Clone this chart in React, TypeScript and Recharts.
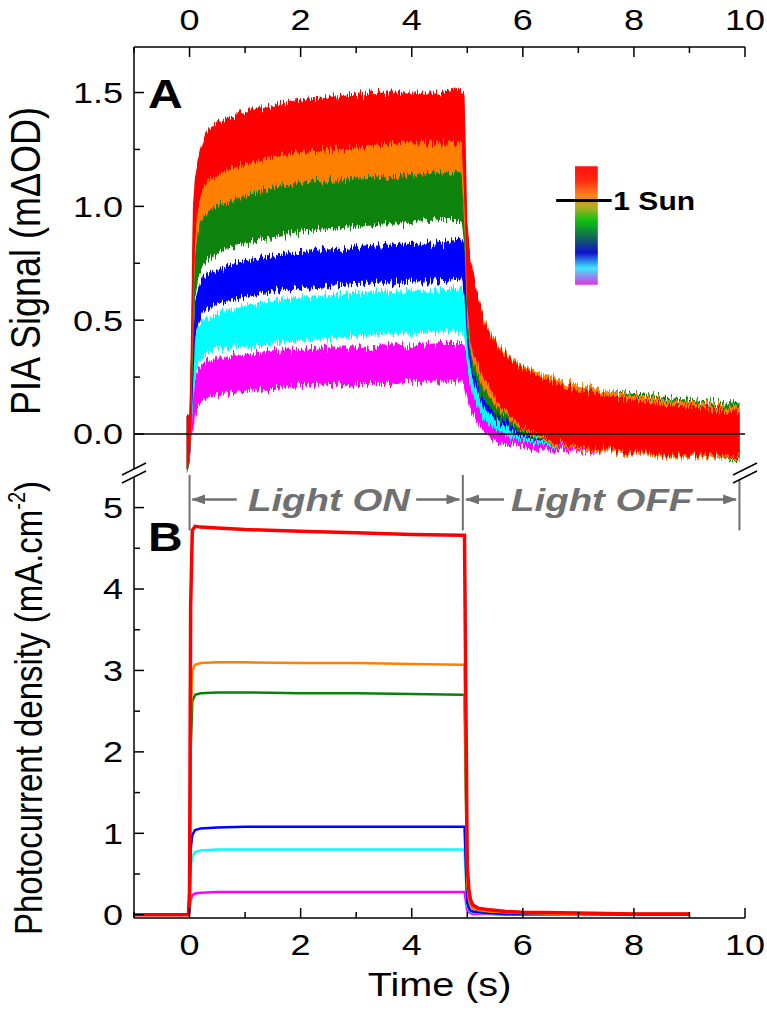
import React from "react";
import {
  ComposedChart,
  Area,
  Line,
  XAxis,
  YAxis,
  ReferenceLine,
  ReferenceArea,
  ReferenceDot,
} from "recharts";

// ---------- Panel A: PIA signal (mΔOD), low/high edge of each noisy band ----------
const piaTime = [
  -0.05, 0.0, 0.03, 0.06, 0.1, 0.15, 0.2, 0.3, 0.5, 0.8, 1.2, 1.6, 2.0, 2.5, 3.0, 3.5, 4.0, 4.5, 4.9,
  4.95, 5.0, 5.05, 5.1, 5.2, 5.3, 5.45, 5.6, 5.8, 6.0, 6.5, 7.0, 7.5, 8.0, 8.5, 9.0, 9.5, 9.9,
];
const redHi = [
  0.08, 0.1, 0.5, 1.0, 1.12, 1.2, 1.26, 1.33, 1.37, 1.4, 1.43, 1.45, 1.47, 1.48, 1.49, 1.5, 1.5, 1.5, 1.52,
  1.5, 0.95, 0.8, 0.72, 0.6, 0.5, 0.42, 0.37, 0.32, 0.29, 0.23, 0.19, 0.17, 0.15, 0.13, 0.12, 0.11, 0.1,
];
const redLo = [
  -0.15, -0.12, 0.05, 0.5, 0.85, 0.98, 1.05, 1.1, 1.14, 1.17, 1.2, 1.22, 1.24, 1.25, 1.26, 1.27, 1.28, 1.28, 1.28,
  1.0, 0.55, 0.42, 0.36, 0.3, 0.25, 0.18, 0.12, 0.07, 0.03, -0.03, -0.06, -0.07, -0.08, -0.09, -0.09, -0.1, -0.1,
];
const orangeHi = [
  0.08, 0.1, 0.4, 0.9, 1.0, 1.08, 1.12, 1.18, 1.22, 1.25, 1.28, 1.3, 1.31, 1.32, 1.33, 1.34, 1.34, 1.35, 1.35,
  1.3, 0.9, 0.78, 0.7, 0.6, 0.51, 0.43, 0.38, 0.33, 0.3, 0.25, 0.21, 0.19, 0.17, 0.15, 0.14, 0.13, 0.12,
];
const orangeLo = [
  -0.15, -0.12, 0.05, 0.45, 0.78, 0.88, 0.93, 0.97, 1.0, 1.03, 1.06, 1.09, 1.1, 1.11, 1.12, 1.13, 1.14, 1.15, 1.15,
  0.9, 0.5, 0.38, 0.32, 0.26, 0.2, 0.14, 0.1, 0.05, 0.02, -0.04, -0.07, -0.08, -0.09, -0.1, -0.1, -0.11, -0.11,
];
const greenHi = [
  0.08, 0.1, 0.35, 0.85, 0.95, 1.0, 1.03, 1.06, 1.08, 1.1, 1.12, 1.14, 1.15, 1.16, 1.17, 1.18, 1.19, 1.2, 1.2,
  1.15, 0.88, 0.72, 0.65, 0.52, 0.45, 0.38, 0.34, 0.3, 0.28, 0.24, 0.21, 0.19, 0.18, 0.16, 0.15, 0.14, 0.14,
];
const greenLo = [
  -0.17, -0.13, 0.05, 0.3, 0.6, 0.68, 0.72, 0.76, 0.79, 0.82, 0.85, 0.87, 0.89, 0.9, 0.91, 0.92, 0.93, 0.94, 0.94,
  0.8, 0.45, 0.34, 0.28, 0.2, 0.15, 0.1, 0.06, 0.03, 0.0, -0.04, -0.06, -0.07, -0.08, -0.09, -0.1, -0.11, -0.12,
];
const blueHi = [
  0.08, 0.1, 0.25, 0.4, 0.58, 0.64, 0.67, 0.7, 0.72, 0.75, 0.77, 0.79, 0.8, 0.81, 0.82, 0.83, 0.84, 0.84, 0.85,
  0.82, 0.68, 0.55, 0.48, 0.39, 0.33, 0.27, 0.23, 0.2, 0.18, 0.15, 0.13, 0.12, 0.11, 0.1, 0.1, 0.09, 0.09,
];
const blueLo = [
  -0.15, -0.12, 0.02, 0.2, 0.42, 0.47, 0.51, 0.55, 0.57, 0.59, 0.61, 0.63, 0.64, 0.65, 0.66, 0.66, 0.67, 0.67, 0.68,
  0.6, 0.4, 0.3, 0.24, 0.17, 0.12, 0.07, 0.04, 0.01, -0.01, -0.04, -0.06, -0.07, -0.08, -0.08, -0.09, -0.09, -0.1,
];
const cyanHi = [
  0.08, 0.1, 0.2, 0.3, 0.42, 0.46, 0.49, 0.51, 0.53, 0.55, 0.57, 0.59, 0.6, 0.61, 0.62, 0.62, 0.63, 0.63, 0.64,
  0.6, 0.5, 0.42, 0.36, 0.29, 0.24, 0.19, 0.16, 0.13, 0.12, 0.1, 0.09, 0.08, 0.08, 0.07, 0.07, 0.07, 0.07,
];
const cyanLo = [
  -0.15, -0.12, 0.0, 0.12, 0.25, 0.3, 0.33, 0.35, 0.37, 0.38, 0.39, 0.4, 0.41, 0.42, 0.43, 0.44, 0.44, 0.45, 0.45,
  0.42, 0.3, 0.22, 0.17, 0.11, 0.07, 0.03, 0.01, -0.02, -0.03, -0.05, -0.06, -0.07, -0.08, -0.08, -0.09, -0.09, -0.1,
];
const magentaHi = [
  0.08, 0.1, 0.12, 0.15, 0.25, 0.28, 0.3, 0.32, 0.33, 0.34, 0.36, 0.37, 0.37, 0.38, 0.38, 0.39, 0.39, 0.4, 0.4,
  0.38, 0.34, 0.3, 0.27, 0.21, 0.17, 0.12, 0.09, 0.07, 0.06, 0.05, 0.05, 0.05, 0.05, 0.05, 0.05, 0.05, 0.05,
];
const magentaLo = [
  -0.15, -0.12, -0.02, 0.0, 0.08, 0.12, 0.14, 0.16, 0.17, 0.18, 0.19, 0.2, 0.21, 0.22, 0.22, 0.22, 0.23, 0.23, 0.23,
  0.2, 0.15, 0.11, 0.08, 0.04, 0.01, -0.02, -0.04, -0.05, -0.06, -0.07, -0.08, -0.08, -0.09, -0.09, -0.1, -0.1, -0.1,
];

// ---------- Panel B: photocurrent density (mA.cm-2) ----------
const pcTime = [
  -1, -0.02, 0.0, 0.02, 0.05, 0.1, 0.2, 0.5, 1, 2, 3, 4, 4.9, 4.95, 4.98, 5.0, 5.03, 5.06, 5.1, 5.2, 5.4, 5.7, 6, 7, 8, 9,
];
const pcRed = [
  0, 0, 0.3, 3.8, 4.72, 4.77, 4.76, 4.75, 4.73, 4.71, 4.69, 4.67, 4.66, 4.66, 2.2, 0.6, 0.3, 0.18, 0.12, 0.08, 0.06, 0.04, 0.03, 0.02, 0.01, 0.01,
];
const pcOrange = [
  0, 0, 0.2, 2.4, 3.0, 3.07, 3.09, 3.1, 3.1, 3.09, 3.09, 3.08, 3.07, 3.07, 1.4, 0.4, 0.2, 0.12, 0.08, 0.06, 0.04, 0.03, 0.02, 0.01, 0.01, 0.01,
];
const pcGreen = [
  0, 0, 0.2, 2.0, 2.62, 2.7, 2.72, 2.73, 2.73, 2.72, 2.72, 2.71, 2.7, 2.7, 1.2, 0.35, 0.18, 0.11, 0.08, 0.05, 0.04, 0.03, 0.02, 0.01, 0.01, 0.01,
];
const pcBlue = [
  0, 0, 0.1, 0.8, 0.98, 1.04, 1.06, 1.07, 1.08, 1.08, 1.08, 1.08, 1.08, 1.08, 0.5, 0.15, 0.08, 0.05, 0.04, 0.03, 0.02, 0.01, 0.01, 0.01, 0, 0,
];
const pcCyan = [
  0, 0, 0.08, 0.58, 0.72, 0.77, 0.79, 0.8, 0.8, 0.8, 0.8, 0.8, 0.8, 0.8, 0.38, 0.12, 0.06, 0.04, 0.03, 0.02, 0.02, 0.01, 0.01, 0, 0, 0,
];
const pcMagenta = [
  0, 0, 0.03, 0.18, 0.24, 0.26, 0.27, 0.28, 0.28, 0.28, 0.28, 0.28, 0.28, 0.28, 0.14, 0.05, 0.03, 0.02, 0.01, 0.01, 0.01, 0, 0, 0, 0, 0,
];

// ---------- ticks ----------
const timeTicks = [-1, 0, 1, 2, 3, 4, 5, 6, 7, 8, 9, 10];
const piaTicks = [0, 0.25, 0.5, 0.75, 1.0, 1.25, 1.5];
const pcTicks = [0, 0.5, 1, 1.5, 2, 2.5, 3, 3.5, 4, 4.5, 5];

// draw order: weakest light first, 1 sun (red) last on top
const SERIES = [
  { key: "magenta", color: "#ff00ff" },
  { key: "cyan", color: "#00ffff" },
  { key: "blue", color: "#0000ff" },
  { key: "green", color: "#078307" },
  { key: "orange", color: "#ff8000" },
  { key: "red", color: "#ff0000" },
];

const piaRows = piaTime.map((t, i) => ({
  t,
  red: [redLo[i], redHi[i]],
  orange: [orangeLo[i], orangeHi[i]],
  green: [greenLo[i], greenHi[i]],
  blue: [blueLo[i], blueHi[i]],
  cyan: [cyanLo[i], cyanHi[i]],
  magenta: [magentaLo[i], magentaHi[i]],
}));

const pcRows = pcTime.map((t, i) => ({
  t,
  red: pcRed[i],
  orange: pcOrange[i],
  green: pcGreen[i],
  blue: pcBlue[i],
  cyan: pcCyan[i],
  magenta: pcMagenta[i],
}));

// layout (page pixels)
const W = 767;
const H = 1027;
const PLOT_L = 134;
const PLOT_R = 745;
const TOP_A = 47;
const SPLIT = 475;
const BOT_B = 918;
const B_OFFSET = SPLIT - 5;

const SX = 1.2; // the figure's lettering is a bit wide
const FONT = "Arial, 'Liberation Sans', Helvetica, sans-serif";
const GREY = "#707070";

function Txt({ x, y, size, anchor = "middle", weight = 400, italic = false, fill = "#000", rotate = 0, children }: any) {
  const tf = `translate(${x},${y}) scale(${SX},1)` + (rotate ? ` rotate(${rotate})` : "");
  return (
    <text
      transform={tf}
      textAnchor={anchor}
      dominantBaseline="central"
      fontFamily={FONT}
      fontSize={size}
      fontWeight={weight}
      fontStyle={italic ? "italic" : "normal"}
      fill={fill}
    >
      {children}
    </text>
  );
}

const isMult = (v: number, step: number) => Math.abs(v / step - Math.round(v / step)) < 1e-6;

function yTick(kind: "A" | "B", side: "left" | "right") {
  return (p: any) => {
    const v = p.payload.value;
    const major = kind === "A" ? isMult(v, 0.5) : isMult(v, 1);
    const len = major ? 10 : 6;
    const dir = side === "left" ? 1 : -1;
    return (
      <g>
        <line x1={p.x} x2={p.x + dir * len} y1={p.y} y2={p.y} stroke="#000" strokeWidth={1.5} />
        {side === "left" && major && (
          <Txt x={p.x - 11} y={p.y} size={30} anchor="end">
            {kind === "A" ? v.toFixed(1) : String(v)}
          </Txt>
        )}
      </g>
    );
  };
}

function xTick(side: "top" | "bottom") {
  return (p: any) => {
    const v = p.payload.value;
    const major = isMult(v, 2);
    const len = major ? 10 : 6;
    const dir = side === "top" ? 1 : -1;
    return (
      <g>
        <line x1={p.x} x2={p.x} y1={p.y} y2={p.y + dir * len} stroke="#000" strokeWidth={1.5} />
        {major && (
          <Txt x={p.x} y={side === "top" ? p.y - 27 : p.y + 27} size={30}>
            {String(v)}
          </Txt>
        )}
      </g>
    );
  };
}

const axisLine = { stroke: "#000", strokeWidth: 1.5 };

function PanelA() {
  return (
    <ComposedChart
      width={W}
      height={SPLIT + 5}
      data={piaRows}
      margin={{ top: TOP_A - 30, right: W - PLOT_R, bottom: 5, left: PLOT_L - 60 }}
    >
      <defs>
        <linearGradient id="sunGrad" x1="0" y1="0" x2="0" y2="1">
          <stop offset="0%" stopColor="#ff1010" />
          <stop offset="12%" stopColor="#ff2a10" />
          <stop offset="24%" stopColor="#ff8020" />
          <stop offset="35%" stopColor="#a8b020" />
          <stop offset="46%" stopColor="#10c010" />
          <stop offset="60%" stopColor="#106858" />
          <stop offset="73%" stopColor="#1010d0" />
          <stop offset="86%" stopColor="#40e8ff" />
          <stop offset="100%" stopColor="#e030e0" />
        </linearGradient>
        <filter id="noisy" x="-2%" y="-10%" width="104%" height="120%">
          <feTurbulence type="fractalNoise" baseFrequency="0.6 0.03" numOctaves="3" seed="4" result="n" />
          <feColorMatrix
            in="n"
            type="matrix"
            values="1 0 0 0 0  0 0 0 0 0.5  0 0 1 0 0  0 0 0 0 1"
            result="n2"
          />
          <feDisplacementMap in="SourceGraphic" in2="n2" scale="18" xChannelSelector="G" yChannelSelector="R" />
        </filter>
      </defs>
      <XAxis
        dataKey="t"
        type="number"
        orientation="top"
        domain={[-1, 10]}
        ticks={timeTicks}
        interval={0}
        allowDataOverflow
        height={30}
        tickSize={0}
        tickMargin={0}
        tickLine={false}
        axisLine={axisLine}
        tick={xTick("top")}
      />
      <YAxis
        yAxisId="l"
        type="number"
        domain={[-0.18, 1.7]}
        ticks={piaTicks}
        interval={0}
        allowDataOverflow
        width={60}
        tickSize={0}
        tickMargin={0}
        tickLine={false}
        axisLine={axisLine}
        tick={yTick("A", "left")}
      />
      <YAxis
        yAxisId="r"
        orientation="right"
        type="number"
        domain={[-0.18, 1.7]}
        ticks={piaTicks}
        interval={0}
        allowDataOverflow
        width={0}
        tickSize={0}
        tickMargin={0}
        tickLine={false}
        axisLine={axisLine}
        tick={yTick("A", "right")}
      />
      <ReferenceLine yAxisId="l" y={0} stroke="#000" strokeWidth={1.5} />
      {SERIES.map((s) => (
        <Area
          key={s.key}
          yAxisId="l"
          type="linear"
          dataKey={s.key}
          stroke="none"
          fill={s.color}
          fillOpacity={1}
          filter="url(#noisy)"
          dot={false}
          activeDot={false}
          isAnimationActive={false}
        />
      ))}
      <ReferenceArea
        yAxisId="l"
        x1={6.94}
        x2={7.35}
        y1={0.656}
        y2={1.176}
        fill="url(#sunGrad)"
        fillOpacity={1}
        stroke="none"
      />
      <ReferenceLine
        yAxisId="l"
        segment={[
          { x: 6.6, y: 1.026 },
          { x: 7.6, y: 1.026 },
        ]}
        stroke="#000"
        strokeWidth={3}
      />
      <ReferenceDot
        yAxisId="l"
        x={7.63}
        y={1.026}
        r={0}
        shape={(p: any) => (
          <Txt x={p.cx} y={p.cy + 1} size={25} weight={700} anchor="start">
            1 Sun
          </Txt>
        )}
      />
    </ComposedChart>
  );
}

function arrowShape(p: any) {
  return (
    <line x1={p.x1} y1={p.y1} x2={p.x2} y2={p.y2} stroke={GREY} strokeWidth={2.5} markerEnd="url(#arrowHead)" />
  );
}

function PanelB() {
  const arrowY = 5.1;
  const arrows = [
    [0.85, 0.05],
    [4.08, 4.86],
    [5.66, 4.98],
    [9.13, 9.84],
  ];
  return (
    <ComposedChart
      width={W}
      height={H - B_OFFSET}
      data={pcRows}
      margin={{ top: 5, right: W - PLOT_R, bottom: H - BOT_B - 30, left: PLOT_L - 60 }}
    >
      <defs>
        <marker
          id="arrowHead"
          markerWidth="14"
          markerHeight="10"
          refX="13"
          refY="5"
          orient="auto"
          markerUnits="userSpaceOnUse"
        >
          <path d="M0,0 L14,5 L0,10 z" fill={GREY} />
        </marker>
      </defs>
      <XAxis
        dataKey="t"
        type="number"
        domain={[-1, 10]}
        ticks={timeTicks}
        interval={0}
        allowDataOverflow
        height={30}
        tickSize={0}
        tickMargin={0}
        tickLine={false}
        axisLine={axisLine}
        tick={xTick("bottom")}
      />
      <YAxis
        yAxisId="l"
        type="number"
        domain={[-0.04, 5.4]}
        ticks={pcTicks}
        interval={0}
        allowDataOverflow
        width={60}
        tickSize={0}
        tickMargin={0}
        tickLine={false}
        axisLine={axisLine}
        tick={yTick("B", "left")}
      />
      <YAxis
        yAxisId="r"
        orientation="right"
        type="number"
        domain={[-0.04, 5.4]}
        ticks={pcTicks}
        interval={0}
        allowDataOverflow
        width={0}
        tickSize={0}
        tickMargin={0}
        tickLine={false}
        axisLine={axisLine}
        tick={yTick("B", "right")}
      />
      {SERIES.map((s) => (
        <Line
          key={s.key}
          yAxisId="l"
          type="linear"
          dataKey={s.key}
          stroke={s.color}
          strokeWidth={s.key === "red" ? 3.5 : 2.5}
          dot={false}
          activeDot={false}
          isAnimationActive={false}
        />
      ))}
      {[0, 4.92, 9.9].map((x) => (
        <ReferenceLine
          key={"v" + x}
          yAxisId="l"
          segment={[
            { x, y: 5.4 },
            { x, y: 4.72 },
          ]}
          stroke={GREY}
          strokeWidth={2}
        />
      ))}
      {arrows.map(([a, b]) => (
        <ReferenceLine
          key={"a" + a}
          yAxisId="l"
          segment={[
            { x: a, y: arrowY },
            { x: b, y: arrowY },
          ]}
          shape={arrowShape}
        />
      ))}
      <ReferenceDot
        yAxisId="l"
        x={2.51}
        y={arrowY}
        r={0}
        shape={(p: any) => (
          <Txt x={p.cx} y={p.cy} size={32} weight={700} italic fill={GREY}>
            Light ON
          </Txt>
        )}
      />
      <ReferenceDot
        yAxisId="l"
        x={7.42}
        y={arrowY}
        r={0}
        shape={(p: any) => (
          <Txt x={p.cx} y={p.cy} size={32} weight={700} italic fill={GREY}>
            Light OFF
          </Txt>
        )}
      />
    </ComposedChart>
  );
}

function BreakMark({ x, y }: { x: number; y: number }) {
  return (
    <g>
      <polygon points={`${x - 12},${y + 2} ${x + 12},${y - 10} ${x + 12},${y - 2} ${x - 12},${y + 10}`} fill="#fff" />
      <line x1={x - 12} y1={y + 2} x2={x + 12} y2={y - 10} stroke="#000" strokeWidth={1.5} />
      <line x1={x - 12} y1={y + 10} x2={x + 12} y2={y - 2} stroke="#000" strokeWidth={1.5} />
    </g>
  );
}

export default function App() {
  return (
    <div style={{ position: "absolute", left: 0, top: 0, width: W, height: H, background: "#fff" }}>
      <div style={{ position: "absolute", left: 0, top: 0 }}>
        <PanelA />
      </div>
      <div style={{ position: "absolute", left: 0, top: B_OFFSET }}>
        <PanelB />
      </div>
      <svg width={W} height={H} style={{ position: "absolute", left: 0, top: 0, pointerEvents: "none" }}>
        <Txt x={148} y={94} size={40} weight={700} anchor="start">
          A
        </Txt>
        <Txt x={148} y={537} size={40} weight={700} anchor="start">
          B
        </Txt>
        <Txt x={25} y={(TOP_A + SPLIT) / 2} size={36} rotate={-90}>
          PIA Signal (mΔOD)
        </Txt>
        <Txt x={28} y={708} size={33} rotate={-90}>
          Photocurrent density (mA.cm
          <tspan dy={-10} fontSize={20}>
            -2
          </tspan>
          <tspan dy={10}>)</tspan>
        </Txt>
        <Txt x={(PLOT_L + PLOT_R) / 2} y={985} size={33}>
          Time (s)
        </Txt>
        <BreakMark x={PLOT_L} y={SPLIT - 2} />
        <BreakMark x={PLOT_R} y={SPLIT - 2} />
      </svg>
    </div>
  );
}
